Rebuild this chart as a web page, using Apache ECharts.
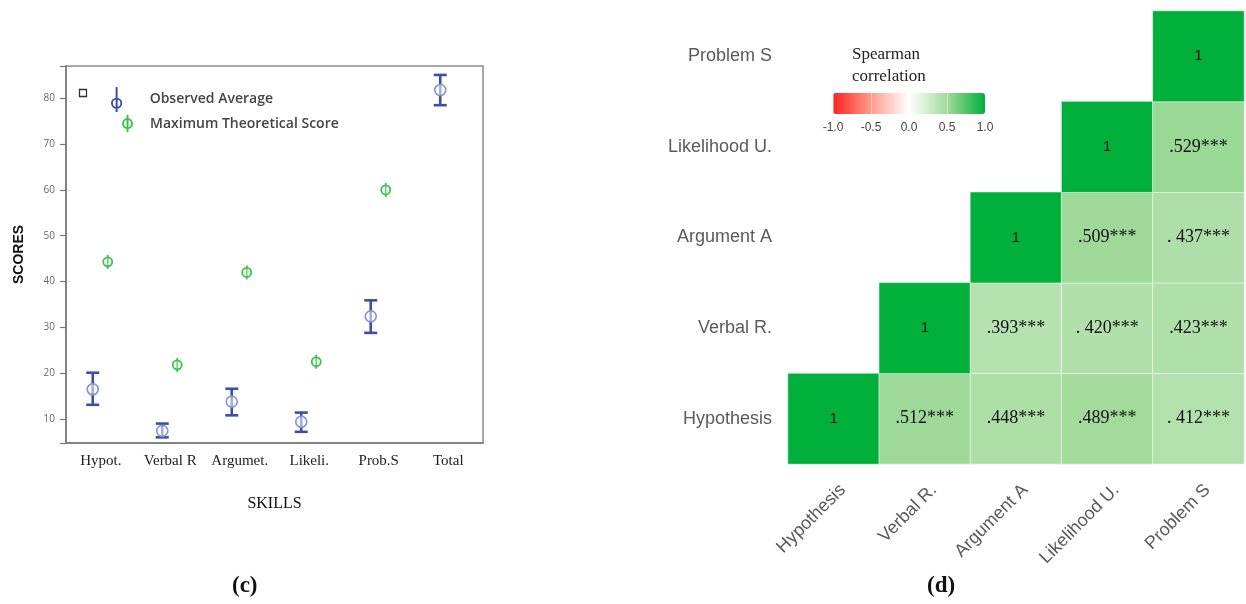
<!DOCTYPE html>
<html>
<head>
<meta charset="utf-8">
<script src="https://cdn.jsdelivr.net/npm/echarts@6/dist/echarts.min.js"></script>
<style>
  html, body { margin: 0; padding: 0; background: #fff; }
  #main { width: 1246px; height: 604px; }
</style>
</head>
<body>
<div id="main"></div>
<script>
// ---- Panel (c): observed averages vs. maximum theoretical scores ----
const skills = ['Hypot.', 'Verbal R', 'Argumet.', 'Likeli.', 'Prob.S', 'Total'];
const observedMean = [16.5, 7.4, 13.8, 9.4, 32.4, 81.8];
const observedLow  = [13.1, 6.0, 10.8, 7.2, 28.8, 78.5];
const observedHigh = [20.1, 9.0, 16.6, 11.4, 35.9, 85.1];
const maxTheoretical = [44.3, 21.8, 42.0, 22.5, 60.0];

// ---- Panel (d): Spearman correlations (upper triangle, one list per row) ----
const variables = ['Hypothesis', 'Verbal R.', 'Argument A', 'Likelihood U.', 'Problem S'];
const rhoHypothesis = [1, 0.512, 0.448, 0.489, 0.412];
const rhoVerbal     = [1, 0.393, 0.420, 0.423];
const rhoArgument   = [1, 0.509, 0.437];
const rhoLikelihood = [1, 0.529];
const rhoProblem    = [1];
const txtHypothesis = ['1', '.512***', '.448***', '.489***', '. 412***'];
const txtVerbal     = ['1', '.393***', '. 420***', '.423***'];
const txtArgument   = ['1', '.509***', '. 437***'];
const txtLikelihood = ['1', '.529***'];
const txtProblem    = ['1'];

const SERIF = 'Liberation Serif, Times New Roman, serif';
const SANS = 'Liberation Sans, Arial, sans-serif';
const OBS_SHIFT = -8;   // horizontal nudge of the observed-average glyphs
const MAX_SHIFT = 7;    // horizontal nudge of the theoretical-maximum glyphs
const BLUE = '#3d4ea7';
const GREEN = '#3cc24d';

const obsData = skills.map((s, i) => [i, observedMean[i], observedLow[i], observedHigh[i]]);
const maxData = maxTheoretical.map((v, i) => [i, v]);

const rhoRows = [rhoHypothesis, rhoVerbal, rhoArgument, rhoLikelihood, rhoProblem];
const txtRows = [txtHypothesis, txtVerbal, txtArgument, txtLikelihood, txtProblem];
const cells = [];
rhoRows.forEach((row, r) => row.forEach((v, k) => {
  const diag = k === 0;
  cells.push({
    value: [r + k, r, v],
    label: {
      formatter: txtRows[r][k],
      fontFamily: diag ? SANS : SERIF,
      fontSize: diag ? 15 : 18
    }
  });
}));

// Legend glyphs: error bar with ring, and ring with short whisker
const obsIcon = 'path://M4.2,0H5.8V20H4.2Z M0.5,13A4.5,4.5 0 1,1 9.5,13A4.5,4.5 0 1,1 0.5,13Z M2,13A3,3 0 1,0 8,13A3,3 0 1,0 2,13Z';
const maxIcon = 'path://M4.2,0H5.8V14H4.2Z M0.5,7A4.5,4.5 0 1,1 9.5,7A4.5,4.5 0 1,1 0.5,7Z M2,7A3,3 0 1,0 8,7A3,3 0 1,0 2,7Z';

const legendText = { fontFamily: 'Open Sans', fontSize: 14, fontWeight: 600, color: '#444' };

const chart = echarts.init(document.getElementById('main'), null, { renderer: 'canvas' });

chart.setOption({
  backgroundColor: '#ffffff',
  animation: false,
  title: [
    { text: '(c)', left: 232, top: 575, padding: 0,
      textStyle: { fontFamily: SERIF, fontWeight: 'bold', fontSize: 23, color: '#111' } },
    { text: '(d)', left: 927, top: 575, padding: 0,
      textStyle: { fontFamily: SERIF, fontWeight: 'bold', fontSize: 23, color: '#111' } },
    { text: 'Spearman\ncorrelation', left: 852, top: 44, padding: 0,
      textStyle: { fontFamily: SERIF, fontWeight: 'normal', fontSize: 17, lineHeight: 22, color: '#222' } }
  ],
  legend: [
    { data: ['Observed Average'], left: 111, top: 87, padding: 0, itemWidth: 12, itemHeight: 25, itemGap: 5,
      icon: obsIcon, selectedMode: false,
      textStyle: Object.assign({ padding: [0, 0, 0, 22] }, legendText) },
    { data: ['Maximum Theoretical Score'], left: 122, top: 115, padding: 0, itemWidth: 11, itemHeight: 18, itemGap: 5,
      icon: maxIcon, selectedMode: false,
      textStyle: Object.assign({ padding: [0, 0, 0, 12] }, legendText) }
  ],
  graphic: [
    { type: 'rect', shape: { x: 79.5, y: 89.5, width: 7, height: 7 },
      style: { fill: 'none', stroke: '#333', lineWidth: 1.3 } }
  ],
  grid: [
    { left: 66, top: 66, width: 417, height: 377, show: true, borderColor: '#8c8c8c', borderWidth: 1.5, backgroundColor: 'transparent' },
    { left: 788, top: 11, width: 456, height: 453 },
    { left: 833, top: 93, width: 152, height: 21 }
  ],
  xAxis: [
    { gridIndex: 0, type: 'category', data: skills, boundaryGap: true,
      axisLine: { lineStyle: { color: '#777', width: 1.5 } },
      axisTick: { alignWithLabel: true, length: 5, lineStyle: { color: '#666', width: 1.5 } },
      axisLabel: { interval: 0, fontFamily: SERIF, fontSize: 15, color: '#222', margin: 11 },
      name: 'SKILLS', nameLocation: 'middle', nameGap: 53,
      nameTextStyle: { fontFamily: SERIF, fontSize: 16, color: '#111' } },
    { gridIndex: 1, type: 'category', data: variables,
      axisLine: { show: false }, axisTick: { show: false }, splitLine: { show: false },
      axisLabel: { rotate: 45, fontFamily: SANS, fontSize: 18, color: '#5a5a5a', margin: 14,
                   verticalAlign: 'top', padding: [4, 0, 0, 0] } },
    { gridIndex: 2, type: 'value', min: -1, max: 1, interval: 0.5, z: 6,
      axisLine: { show: false }, axisTick: { show: false },
      splitLine: { show: true, lineStyle: { color: 'rgba(255,255,255,0.45)', width: 1 } },
      axisLabel: { fontFamily: SANS, fontSize: 12, color: '#444', margin: 8, formatter: v => v.toFixed(1) } }
  ],
  yAxis: [
    { gridIndex: 0, type: 'value', min: 4.76, max: 87.05, splitNumber: 8,
      axisLine: { show: true, lineStyle: { color: '#777', width: 1.5 } },
      axisTick: { show: true, length: 6, lineStyle: { color: '#777', width: 1.2 } },
      splitLine: { show: false },
      axisLabel: { fontFamily: 'Open Sans', fontSize: 10, color: '#666', margin: 11,
                   formatter: v => (Math.abs(v - Math.round(v / 10) * 10) < 1e-6 ? String(Math.round(v)) : '') },
      name: 'SCORES', nameLocation: 'middle', nameGap: 40, nameRotate: 90,
      nameTextStyle: { fontFamily: SANS, fontWeight: 'bold', fontSize: 14, color: '#111' } },
    { gridIndex: 1, type: 'category', data: variables,
      axisLine: { show: false }, axisTick: { show: false }, splitLine: { show: false },
      axisLabel: { fontFamily: SANS, fontSize: 18, color: '#5a5a5a', margin: 16 } },
    { gridIndex: 2, type: 'value', show: false, min: 0, max: 1 }
  ],
  visualMap: {
    type: 'continuous', seriesIndex: 2, min: -1, max: 1, orient: 'horizontal',
    left: 833, top: 93, itemWidth: 21, itemHeight: 152, padding: 0,
    calculable: false, hoverLink: false, text: null,
    inRange: { color: ['#ff2020', '#ff9c8c', '#ffffff', '#a2da9b', '#00b03a'] }
  },
  series: [
    {
      name: 'Observed Average', type: 'custom', xAxisIndex: 0, yAxisIndex: 0,
      itemStyle: { color: BLUE },
      encode: { x: 0, y: [1, 2, 3] },
      data: obsData,
      renderItem: (params, api) => {
        const pm = api.coord([api.value(0), api.value(1)]);
        const pl = api.coord([api.value(0), api.value(2)]);
        const ph = api.coord([api.value(0), api.value(3)]);
        const x = pm[0] + OBS_SHIFT;
        const cap = 6.5;
        const ls = { stroke: BLUE, lineWidth: 2.6 };
        return {
          type: 'group',
          children: [
            { type: 'line', shape: { x1: x, y1: ph[1], x2: x, y2: pl[1] }, style: ls },
            { type: 'line', shape: { x1: x - cap, y1: ph[1], x2: x + cap, y2: ph[1] }, style: ls },
            { type: 'line', shape: { x1: x - cap, y1: pl[1], x2: x + cap, y2: pl[1] }, style: ls },
            { type: 'circle', shape: { cx: x, cy: pm[1], r: 5.5 },
              style: { fill: 'rgba(255,255,255,0.55)', stroke: '#8294d0', lineWidth: 1.6 } }
          ]
        };
      }
    },
    {
      name: 'Maximum Theoretical Score', type: 'custom', xAxisIndex: 0, yAxisIndex: 0,
      itemStyle: { color: GREEN },
      encode: { x: 0, y: 1 },
      data: maxData,
      renderItem: (params, api) => {
        const p = api.coord([api.value(0), api.value(1)]);
        const x = p[0] + MAX_SHIFT;
        return {
          type: 'group',
          children: [
            { type: 'line', shape: { x1: x, y1: p[1] - 7, x2: x, y2: p[1] + 7 },
              style: { stroke: GREEN, lineWidth: 1.8 } },
            { type: 'circle', shape: { cx: x, cy: p[1], r: 4.5 },
              style: { fill: 'rgba(255,255,255,0.3)', stroke: GREEN, lineWidth: 1.8 } }
          ]
        };
      }
    },
    {
      name: 'Spearman correlation', type: 'heatmap', xAxisIndex: 1, yAxisIndex: 1,
      data: cells,
      itemStyle: { borderColor: 'rgba(255,255,255,0.55)', borderWidth: 1 },
      label: { show: true, color: '#111' },
      emphasis: { disabled: true }
    }
  ]
});
</script>
</body>
</html>
